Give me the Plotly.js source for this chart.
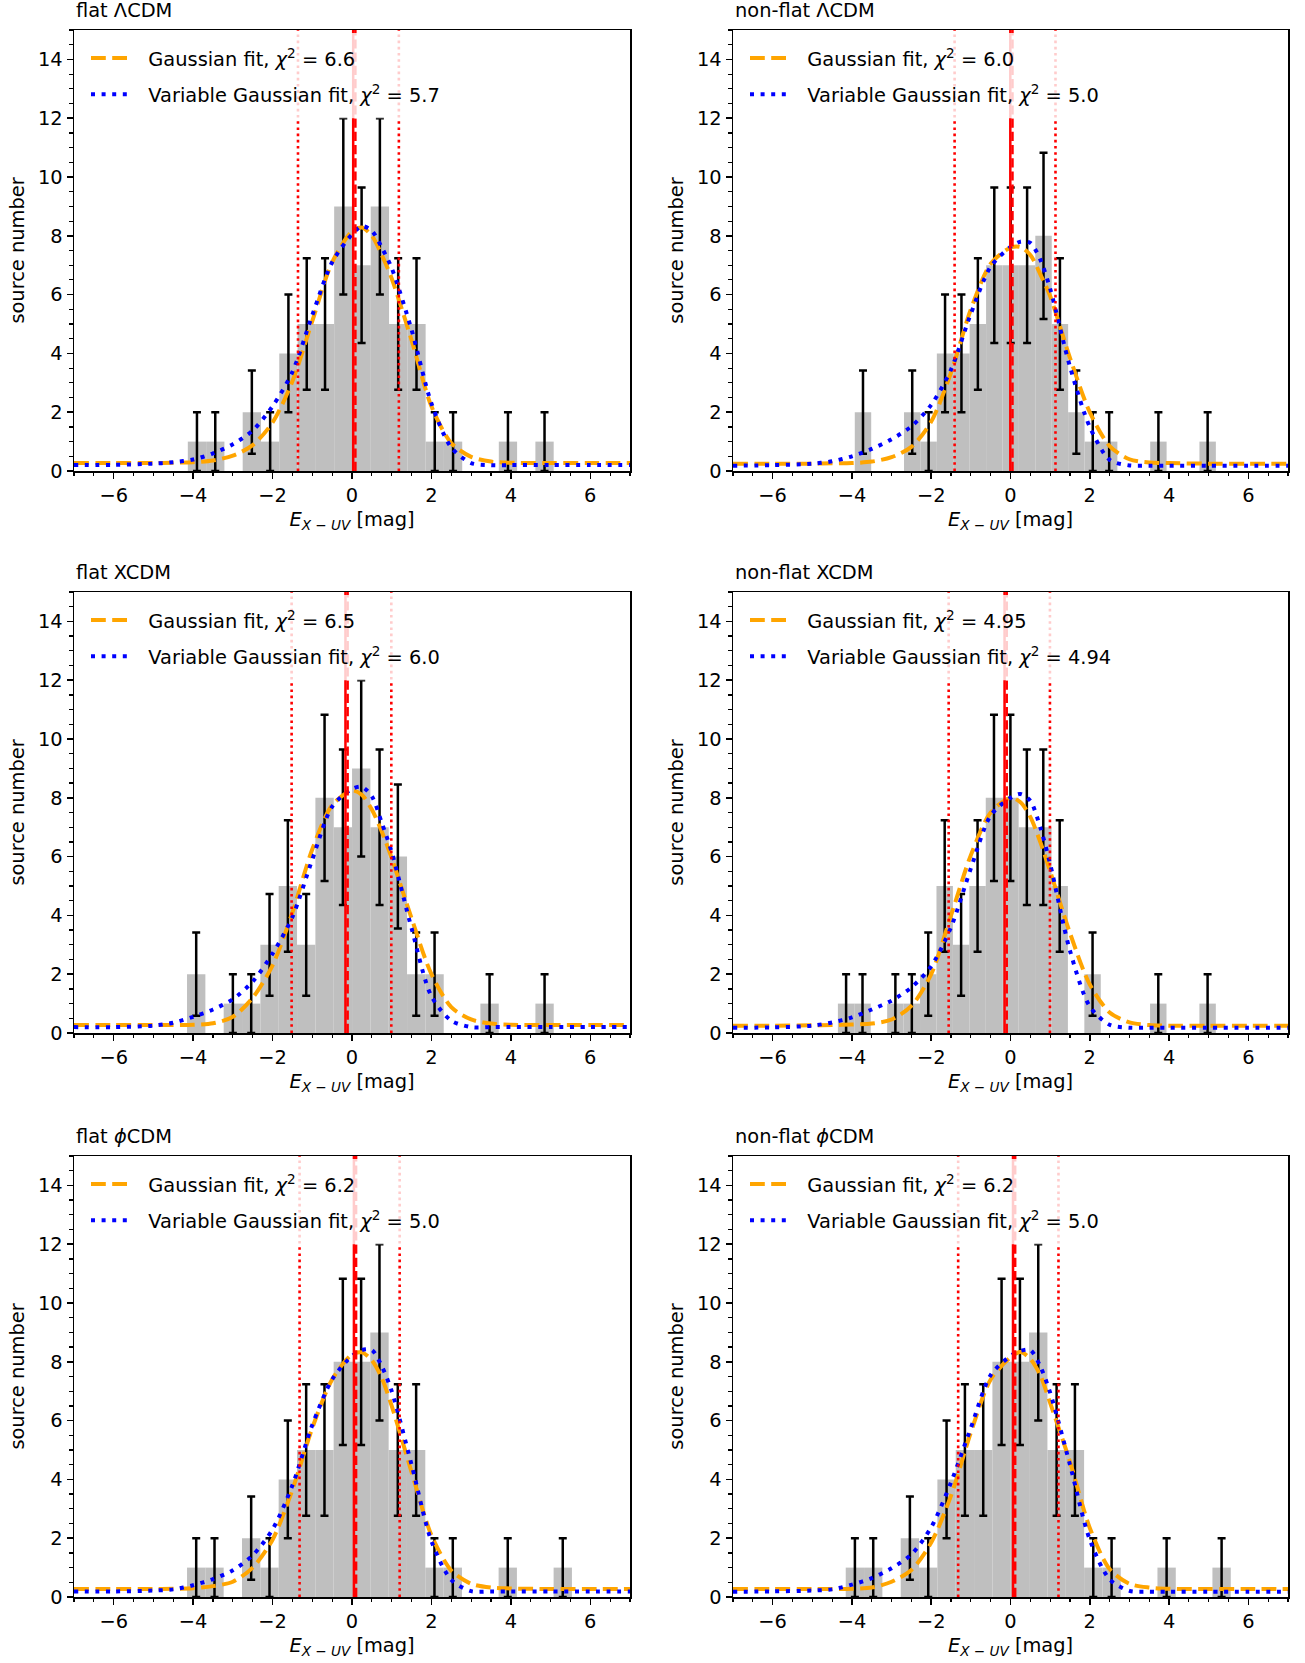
<!DOCTYPE html>
<html><head><meta charset="utf-8">
<script src="https://cdn.plot.ly/plotly-3.0.1.min.js"></script>
<style>html,body{margin:0;padding:0;background:#fff;} #chart{width:1305px;height:1663px;}</style>
</head><body><div id="chart"></div>
<script>
// ---------------- DATA ----------------
const panelTitles = ['flat ΛCDM', 'non-flat ΛCDM', 'flat XCDM', 'non-flat XCDM', 'flat <i>ϕ</i>CDM', 'non-flat <i>ϕ</i>CDM'];
const gaussChi2 = ['6.6', '6.0', '6.5', '4.95', '6.2', '6.2'];
const varGaussChi2 = ['5.7', '5.0', '6.0', '4.94', '5.0', '5.0'];

const binCenters1 = [-3.904, -3.443, -2.982, -2.522, -2.061, -1.601, -1.140, -0.679, -0.219, 0.242, 0.702, 1.163, 1.624, 2.084, 2.545, 3.005, 3.466, 3.927, 4.387, 4.848];
const counts1 = [1, 1, 0, 2, 1, 4, 5, 5, 9, 7, 9, 5, 5, 1, 1, 0, 0, 1, 0, 1];
const binCenters2 = [-3.721, -3.307, -2.893, -2.479, -2.065, -1.651, -1.237, -0.823, -0.409, 0.005, 0.419, 0.833, 1.247, 1.661, 2.075, 2.489, 2.903, 3.317, 3.731, 4.145, 4.559, 4.973];
const counts2 = [2, 0, 0, 2, 1, 4, 4, 5, 7, 7, 7, 8, 5, 2, 1, 1, 0, 0, 1, 0, 0, 1];
const binCenters3 = [-3.923, -3.461, -3.000, -2.538, -2.076, -1.615, -1.153, -0.691, -0.230, 0.232, 0.694, 1.155, 1.617, 2.079, 2.540, 3.002, 3.464, 3.926, 4.387, 4.849];
const counts3 = [2, 0, 1, 1, 3, 5, 3, 8, 7, 9, 7, 6, 2, 2, 0, 0, 1, 0, 0, 1];
const binCenters4 = [-4.147, -3.733, -3.318, -2.904, -2.489, -2.075, -1.660, -1.246, -0.831, -0.417, -0.002, 0.412, 0.827, 1.241, 1.656, 2.070, 2.485, 2.899, 3.314, 3.728, 4.143, 4.557, 4.972];
const counts4 = [1, 1, 0, 1, 1, 2, 5, 3, 5, 8, 8, 7, 7, 5, 0, 2, 0, 0, 0, 1, 0, 0, 1];
const binCenters5 = [-3.923, -3.462, -3.000, -2.539, -2.077, -1.616, -1.154, -0.693, -0.231, 0.230, 0.692, 1.153, 1.615, 2.076, 2.538, 2.999, 3.461, 3.922, 4.384, 4.845, 5.307];
const counts5 = [1, 1, 0, 2, 1, 4, 5, 5, 8, 8, 9, 5, 5, 1, 1, 0, 0, 1, 0, 0, 1];
const binCenters6 = [-3.925, -3.463, -3.000, -2.538, -2.075, -1.613, -1.150, -0.688, -0.225, 0.238, 0.700, 1.163, 1.625, 2.088, 2.550, 3.013, 3.475, 3.938, 4.400, 4.863, 5.325];
const counts6 = [1, 1, 0, 2, 1, 4, 5, 5, 8, 8, 9, 5, 5, 1, 1, 0, 0, 1, 0, 0, 1];
const binWidths = [0.4606, 0.414, 0.4617, 0.4145, 0.4615, 0.4625];

// fit curves
const fitX = [-7, -6, -5, -4.5, -4, -3.5, -3, -2.5, -2, -1.5, -1, -0.5, 0, 0.25, 0.5, 0.75, 1, 1.5, 2, 2.5, 3, 3.5, 4, 5, 6, 7];
const gaussY1 = [0.27, 0.27, 0.27, 0.28, 0.30, 0.36, 0.52, 0.88, 1.65, 3.05, 5.10, 7.10, 8.15, 8.28, 8.00, 7.35, 6.55, 4.45, 2.20, 0.95, 0.48, 0.32, 0.28, 0.27, 0.27, 0.27];
const varGaussY1 = [0.20, 0.21, 0.25, 0.30, 0.39, 0.60, 0.91, 1.38, 2.20, 3.37, 5.30, 7.10, 8.05, 8.33, 8.17, 7.60, 6.90, 4.80, 2.30, 0.80, 0.27, 0.20, 0.20, 0.20, 0.20, 0.20];
const gaussY2 = [0.25, 0.25, 0.25, 0.26, 0.27, 0.32, 0.47, 0.82, 1.68, 3.35, 5.50, 7.05, 7.60, 7.62, 7.35, 6.70, 5.95, 3.85, 2.00, 0.85, 0.40, 0.29, 0.27, 0.25, 0.25, 0.25];
const varGaussY2 = [0.18, 0.20, 0.25, 0.33, 0.50, 0.75, 1.08, 1.52, 2.25, 3.45, 5.35, 6.95, 7.62, 7.80, 7.76, 7.20, 6.20, 3.55, 1.50, 0.38, 0.19, 0.18, 0.18, 0.18, 0.18, 0.18];
const gaussY3 = [0.27, 0.27, 0.27, 0.27, 0.28, 0.33, 0.55, 1.20, 2.30, 4.10, 6.25, 7.75, 8.25, 8.10, 7.60, 6.85, 5.95, 3.90, 2.00, 0.88, 0.46, 0.32, 0.28, 0.27, 0.27, 0.27];
const varGaussY3 = [0.20, 0.20, 0.25, 0.35, 0.55, 0.80, 1.15, 1.75, 2.70, 3.95, 5.90, 7.70, 8.30, 8.37, 8.05, 7.15, 6.15, 3.56, 1.25, 0.42, 0.20, 0.20, 0.20, 0.20, 0.20, 0.20];
const gaussY4 = [0.25, 0.25, 0.26, 0.27, 0.29, 0.32, 0.46, 0.92, 2.00, 4.00, 6.05, 7.50, 8.00, 7.85, 7.35, 6.50, 5.50, 3.40, 1.65, 0.70, 0.36, 0.27, 0.25, 0.25, 0.25, 0.25];
const varGaussY4 = [0.18, 0.19, 0.25, 0.36, 0.53, 0.80, 1.10, 1.55, 2.27, 3.60, 5.60, 7.40, 8.00, 8.13, 7.90, 7.00, 5.75, 2.80, 0.90, 0.28, 0.18, 0.18, 0.18, 0.18, 0.18, 0.18];
const gaussY5 = [0.27, 0.27, 0.27, 0.28, 0.30, 0.37, 0.52, 1.00, 1.95, 3.65, 5.75, 7.40, 8.25, 8.32, 8.05, 7.45, 6.50, 4.25, 2.10, 0.90, 0.45, 0.32, 0.29, 0.27, 0.27, 0.27];
const varGaussY5 = [0.19, 0.19, 0.22, 0.26, 0.40, 0.61, 0.91, 1.42, 2.30, 3.80, 5.85, 7.40, 8.20, 8.40, 8.40, 7.85, 7.00, 4.50, 1.90, 0.58, 0.20, 0.19, 0.19, 0.19, 0.19, 0.19];
const gaussY6 = [0.27, 0.27, 0.27, 0.27, 0.28, 0.32, 0.52, 0.92, 1.85, 3.45, 5.60, 7.40, 8.15, 8.33, 8.10, 7.55, 6.60, 4.60, 2.35, 0.95, 0.45, 0.32, 0.28, 0.27, 0.27, 0.27];
const varGaussY6 = [0.18, 0.19, 0.22, 0.26, 0.42, 0.64, 0.98, 1.45, 2.37, 3.90, 5.75, 7.55, 8.20, 8.37, 8.40, 7.85, 6.95, 4.50, 1.95, 0.60, 0.21, 0.18, 0.18, 0.18, 0.18, 0.18];

// vertical reference lines
const solidCenterX = [0.030, -0.005, -0.165, -0.150, 0.048, 0.063];
const dashedCenterX = [0.085, 0.050, -0.110, -0.095, 0.103, 0.118];
const lowLineX = [-1.36, -1.41, -1.52, -1.56, -1.32, -1.32];
const highLineX = [1.18, 1.135, 0.99, 0.995, 1.20, 1.21];

const yTickLabel = 'source number';
const xTickLabel = '<i>E</i><sub><i>X</i> − <i>UV</i></sub> [mag]';

// ---------------- STYLE / LAYOUT ----------------
const binCenters = [binCenters1, binCenters2, binCenters3, binCenters4, binCenters5, binCenters6];
const counts = [counts1, counts2, counts3, counts4, counts5, counts6];
const gaussY = [gaussY1, gaussY2, gaussY3, gaussY4, gaussY5, gaussY6];
const varGaussY = [varGaussY1, varGaussY2, varGaussY3, varGaussY4, varGaussY5, varGaussY6];

const FONT = 'DejaVu Sans';
const FS = 19.4;
const W = 1305, H = 1663;
const colPx = [[74, 630], [733, 1288]];
const rowPx = [[30, 471], [592, 1033], [1156, 1597]];
const fadeRight = [2.5, 2.55, 2.55, 2.85, 2.55, 2.55];
const LEG_PAD = '\u00A0\u00A0';

const traces = [];
const layout = {
  width: W, height: H,
  margin: {l: 0, r: 0, t: 0, b: 0},
  paper_bgcolor: '#fff', plot_bgcolor: '#fff',
  font: {family: FONT, size: FS, color: '#000'},
  showlegend: true,
  barmode: 'overlay',
  annotations: [], shapes: []
};

for (let i = 0; i < 6; i++) {
  const r = Math.floor(i / 2), c = i % 2, n = i + 1;
  const xa = n === 1 ? 'x' : 'x' + n;
  const ya = n === 1 ? 'y' : 'y' + n;
  const lk = n === 1 ? 'legend' : 'legend' + n;
  const axisCommon = {
    showline: true, mirror: true, linecolor: '#000', linewidth: 1.5,
    ticks: 'outside', ticklen: 6, tickwidth: 1.5, tickcolor: '#000',
    showgrid: false, zeroline: false,
    tickfont: {family: FONT, size: FS, color: '#000'},
    minor: {ticks: 'outside', dtick: 0.5, ticklen: 3.5, tickwidth: 1.2, tickcolor: '#000', showgrid: false}
  };
  layout[n === 1 ? 'xaxis' : 'xaxis' + n] = Object.assign({}, axisCommon, {
    domain: [colPx[c][0] / W, colPx[c][1] / W], anchor: ya,
    range: [-7, 7], tick0: 0, dtick: 2,
    title: {text: xTickLabel, font: {family: FONT, size: FS, color: '#000'}, standoff: 6}
  });
  layout[n === 1 ? 'yaxis' : 'yaxis' + n] = Object.assign({}, axisCommon, {
    domain: [1 - rowPx[r][1] / H, 1 - rowPx[r][0] / H], anchor: xa,
    range: [0, 15], tick0: 0, dtick: 2,
    title: {text: yTickLabel, font: {family: FONT, size: FS, color: '#000'}, standoff: 8}
  });
  layout[lk] = {
    x: (colPx[c][0] + 12) / W, y: 1 - (rowPx[r][0] + 9) / H,
    xanchor: 'left', yanchor: 'top',
    bgcolor: 'rgba(0,0,0,0)', borderwidth: 0,
    font: {family: FONT, size: FS, color: '#000'},
    tracegroupgap: 8, itemwidth: 40
  };
  layout.annotations.push({
    xref: 'paper', yref: 'paper', x: colPx[c][0] / W, y: 1 - rowPx[r][0] / H,
    xanchor: 'left', yanchor: 'bottom', yshift: 6, showarrow: false,
    text: panelTitles[i], font: {family: FONT, size: FS, color: '#000'}
  });
  // translucent legend frame (white, alpha 0.8) that fades lines behind the legend
  layout.shapes.push({
    type: 'rect', xref: xa, yref: ya, x0: -6.92, x1: fadeRight[i], y0: 12, y1: 14.9,
    fillcolor: 'rgba(255,255,255,0.8)', line: {width: 0}, layer: 'above'
  });

  // histogram bars
  traces.push({
    type: 'bar', x: binCenters[i], y: counts[i], width: binWidths[i],
    marker: {color: '#bfbfbf', line: {width: 0}},
    xaxis: xa, yaxis: ya, showlegend: false, hoverinfo: 'skip'
  });
  // Poisson error bars on non-empty bins
  const ex = [], ey = [], ee = [];
  counts[i].forEach((v, k) => { if (v > 0) { ex.push(binCenters[i][k]); ey.push(v); ee.push(Math.sqrt(v)); } });
  traces.push({
    type: 'scatter', mode: 'markers', x: ex, y: ey,
    marker: {size: 1, color: 'rgba(0,0,0,0)'},
    error_y: {type: 'data', array: ee, visible: true, color: '#000', thickness: 2.5, width: 4},
    xaxis: xa, yaxis: ya, showlegend: false, hoverinfo: 'skip'
  });
  // fits
  traces.push({
    type: 'scatter', mode: 'lines', x: fitX, y: gaussY[i],
    line: {color: '#FFA500', width: 4, dash: '14.8px,6.4px', shape: 'spline', smoothing: 0.8},
    name: LEG_PAD + 'Gaussian fit, <i>χ</i><sup>2</sup> = ' + gaussChi2[i],
    legend: lk, legendgroup: 'g' + n, xaxis: xa, yaxis: ya, hoverinfo: 'skip'
  });
  traces.push({
    type: 'scatter', mode: 'lines', x: fitX, y: varGaussY[i],
    line: {color: '#0000FF', width: 4, dash: '4px,6.6px', shape: 'spline', smoothing: 0.8},
    name: LEG_PAD + 'Variable Gaussian fit, <i>χ</i><sup>2</sup> = ' + varGaussChi2[i],
    legend: lk, legendgroup: 'v' + n, xaxis: xa, yaxis: ya, hoverinfo: 'skip'
  });
  // vertical lines
  [lowLineX[i], highLineX[i]].forEach(v => traces.push({
    type: 'scatter', mode: 'lines', x: [v, v], y: [0, 15],
    line: {color: '#FF0000', width: 2.6, dash: '2.6px,3.6px'},
    xaxis: xa, yaxis: ya, showlegend: false, hoverinfo: 'skip'
  }));
  traces.push({
    type: 'scatter', mode: 'lines', x: [solidCenterX[i], solidCenterX[i]], y: [0, 15],
    line: {color: '#FF0000', width: 2.5},
    xaxis: xa, yaxis: ya, showlegend: false, hoverinfo: 'skip'
  });
  traces.push({
    type: 'scatter', mode: 'lines', x: [dashedCenterX[i], dashedCenterX[i]], y: [0, 15],
    line: {color: '#FF0000', width: 2.5, dash: '9.2px,4px'},
    xaxis: xa, yaxis: ya, showlegend: false, hoverinfo: 'skip'
  });
}

Plotly.newPlot('chart', traces, layout, {staticPlot: true});
</script></body></html>
